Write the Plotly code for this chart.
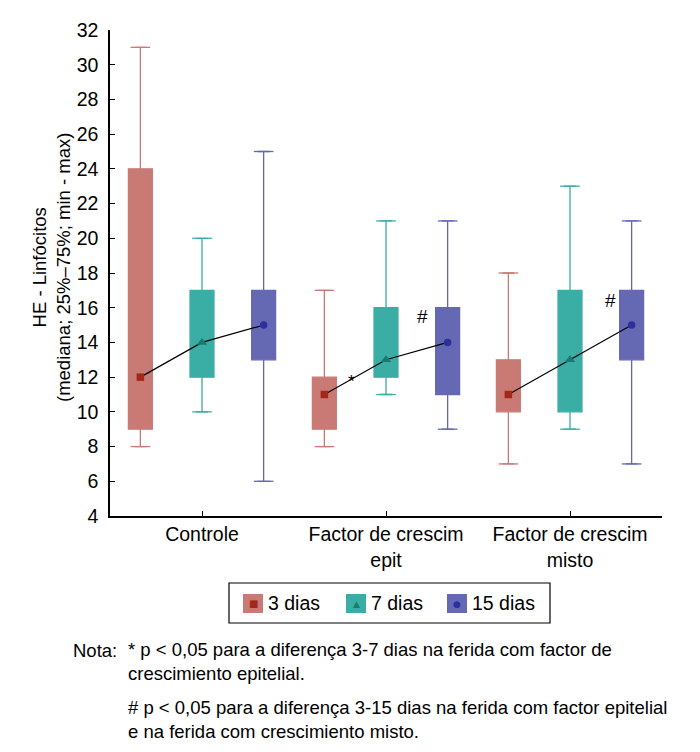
"""
HE - Linfocitos box plot (3 / 7 / 15 dias) recreated with Plotly
"""

import plotly.graph_objects as go

# ---- data -------------------------------------------------------------
categories = ["Controle", "Factor de crescim<br>epit", "Factor de crescim<br>misto"]
series_names = ["3 dias", "7 dias", "15 dias"]

min_3 = [8, 8, 7]
q1_3 = [9, 9, 10]
med_3 = [12, 11, 11]
q3_3 = [24, 12, 13]
max_3 = [31, 17, 18]

min_7 = [10, 11, 9]
q1_7 = [12, 12, 10]
med_7 = [14, 13, 13]
q3_7 = [17, 16, 17]
max_7 = [20, 21, 23]

min_15 = [6, 9, 7]
q1_15 = [13, 11, 13]
med_15 = [15, 14, 15]
q3_15 = [17, 16, 17]
max_15 = [25, 21, 21]

y_ticks = list(range(4, 33, 2))

# ---- styling ----------------------------------------------------------
FONT = "Arial, Liberation Sans, sans-serif"
box_colors = ["#c97a75", "#3aada5", "#6569b4"]
median_colors = ["#a3281c", "#1a7a71", "#2e2e9c"]
median_symbols = ["square", "triangle-up", "circle"]
median_sizes = [7.5, 9, 7.5]
offsets = [-0.335, 0.0, 0.335]
BOX_W = 0.13

# the page body adds an 8px margin, so the figure is drawn 8px smaller/shifted
PAD = 8
W, H = 700 - 2 * PAD, 752 - 2 * PAD

# plot area in window pixels (used to place the hand drawn legend / notes)
L, R, T, B = 110, 662, 30, 516


def px_x(px):
    return (px - L) / (R - L)


def px_y(py):
    return (B - py) / (B - T)


stats = [
    (min_3, q1_3, med_3, q3_3, max_3),
    (min_7, q1_7, med_7, q3_7, max_7),
    (min_15, q1_15, med_15, q3_15, max_15),
]

fig = go.Figure()

for i, name in enumerate(series_names):
    lo, q1, med, q3, hi = stats[i]
    xpos = [c + offsets[i] for c in range(len(categories))]

    fig.add_trace(go.Box(
        x=xpos, q1=q1, median=med, q3=q3,
        lowerfence=lo, upperfence=hi,
        width=BOX_W, boxpoints=False,
        fillcolor=box_colors[i],
        line=dict(color=box_colors[i], width=1.3),
        name=name, showlegend=False
    ))

    # whisker caps
    fig.add_trace(go.Scatter(
        x=xpos + xpos, y=lo + hi, mode="markers",
        marker=dict(symbol="line-ew", size=14,
                    line=dict(color=box_colors[i], width=1.3)),
        showlegend=False, hoverinfo="skip", cliponaxis=False
    ))

# lines joining the medians inside each group
for g in range(len(categories)):
    fig.add_trace(go.Scatter(
        x=[g + o for o in offsets],
        y=[med_3[g], med_7[g], med_15[g]],
        mode="lines", line=dict(color="black", width=1.2),
        showlegend=False, hoverinfo="skip"
    ))

for i, name in enumerate(series_names):
    fig.add_trace(go.Scatter(
        x=[c + offsets[i] for c in range(len(categories))],
        y=stats[i][2], mode="markers",
        marker=dict(symbol=median_symbols[i], size=median_sizes[i],
                    color=median_colors[i]),
        name=name, showlegend=False
    ))

fig.update_layout(
    width=W, height=H,
    margin=dict(l=L - PAD, r=W - (R - PAD), t=T - PAD, b=H - (B - PAD)),
    plot_bgcolor="white", paper_bgcolor="white",
    font=dict(family=FONT, size=19, color="black"),
    boxmode="overlay",
    showlegend=False,
)

fig.update_xaxes(
    range=[-0.5, 2.5], tickvals=list(range(len(categories))), ticktext=categories,
    ticks="inside", ticklen=5, tickcolor="black",
    showline=True, linecolor="black", linewidth=1.5,
    showgrid=False, zeroline=False, tickfont=dict(size=19.5)
)
fig.update_yaxes(
    range=[4, 32], tickvals=y_ticks,
    ticks="inside", ticklen=5, tickcolor="black",
    showline=True, linecolor="black", linewidth=1.5,
    showgrid=False, zeroline=False, tickfont=dict(size=19.5),
    ticklabelstandoff=6
)

# axis title
fig.add_annotation(
    xref="paper", yref="paper", x=px_x(51), y=px_y(268),
    text="HE - Linfócitos<br>(mediana; 25%–75%; min - max)",
    textangle=-90, showarrow=False, font=dict(size=18.5),
    xanchor="center", yanchor="middle"
)

# significance marks
fig.add_annotation(x=0.81, y=11.75, text="*", showarrow=False, font=dict(size=17))
fig.add_annotation(x=1.2, y=15.5, text="#", showarrow=False, font=dict(size=19))
fig.add_annotation(x=2.22, y=16.4, text="#", showarrow=False, font=dict(size=19))

# legend drawn by hand (coloured swatch with the median marker inside)
fig.add_shape(type="rect", xref="paper", yref="paper",
              x0=px_x(229), x1=px_x(550), y0=px_y(583), y1=px_y(623),
              line=dict(color="black", width=1.2), fillcolor="white")
glyphs = ["■", "▲", "●"]
glyph_sizes = [10, 9, 9]
swatch_left = [243, 346, 447]
for i, name in enumerate(series_names):
    x0 = swatch_left[i]
    fig.add_shape(type="rect", xref="paper", yref="paper",
                  x0=px_x(x0), x1=px_x(x0 + 20), y0=px_y(594), y1=px_y(613),
                  line=dict(width=0), fillcolor=box_colors[i])
    fig.add_annotation(xref="paper", yref="paper", x=px_x(x0 + 10), y=px_y(603.5),
                       text=glyphs[i], showarrow=False,
                       font=dict(size=glyph_sizes[i], color=median_colors[i],
                                 family="DejaVu Sans"),
                       xanchor="center", yanchor="middle")
    fig.add_annotation(xref="paper", yref="paper", x=px_x(x0 + 23), y=px_y(603),
                       text=name, showarrow=False, font=dict(size=19.5),
                       xanchor="left", yanchor="middle")

# notes under the chart
fig.add_annotation(xref="paper", yref="paper", x=px_x(71), y=px_y(650),
                   text="Nota:", showarrow=False, font=dict(size=18.5),
                   xanchor="left", yanchor="middle")
fig.add_annotation(xref="paper", yref="paper", x=px_x(126), y=px_y(661.5),
                   text="* p < 0,05 para a diferença 3-7 dias na ferida com factor de"
                        "<br>crescimiento epitelial.",
                   showarrow=False, align="left", font=dict(size=18.5),
                   xanchor="left", yanchor="middle")
fig.add_annotation(xref="paper", yref="paper", x=px_x(126), y=px_y(719.5),
                   text="# p < 0,05 para a diferença 3-15 dias na ferida com factor epitelial"
                        "<br>e na ferida com crescimiento misto.",
                   showarrow=False, align="left", font=dict(size=18.5),
                   xanchor="left", yanchor="middle")

fig.write_html("out.html")
